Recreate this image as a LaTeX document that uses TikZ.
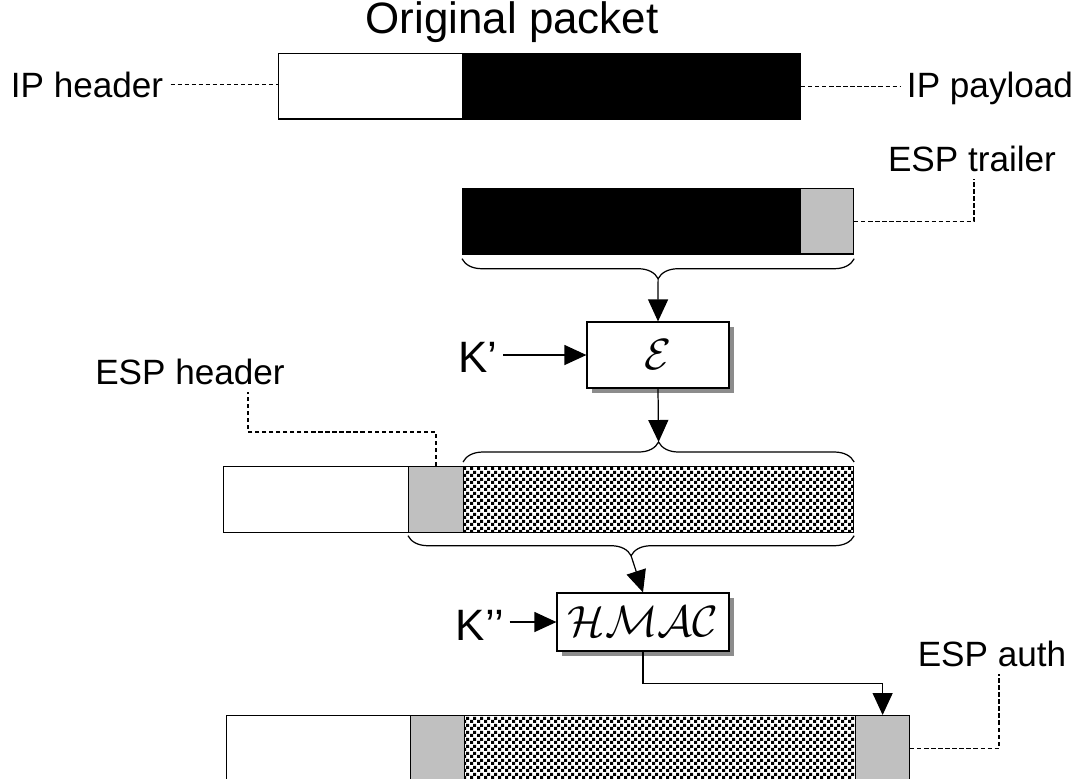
\documentclass[tikz,border=0pt]{standalone}
\usepackage{fontspec}
\setmainfont{Liberation Sans}
\usetikzlibrary{arrows.meta,patterns.meta,shadows,decorations.pathreplacing,calc}
\definecolor{espgray}{RGB}{192,192,192}
\tikzdeclarepattern{
  name=chk,
  type=uncolored,
  bounding box={(0,0) and (4pt,4pt)},
  tile size={(4pt,4pt)},
  code={
    \fill (0pt,0pt) rectangle (2pt,2pt);
    \fill (2pt,2pt) rectangle (4pt,4pt);
  }
}

\begin{document}
\begin{tikzpicture}[x=0.02cm,y=-0.02cm,
  seg/.style={draw,line width=0.7pt,inner sep=0pt,anchor=north west,minimum height=1.31cm},
  lbl/.style={font=\fontsize{20}{24}\selectfont,inner sep=0.4em,anchor=base},
  big/.style={font=\fontsize{25}{30}\selectfont,inner sep=0.3em,anchor=base},
  fn/.style={draw,line width=0.7pt,fill=white,inner sep=0pt,font=\Huge,
    drop shadow={shadow xshift=0.1cm,shadow yshift=-0.1cm,fill=black!45,opacity=1}},
  a/.style={-{Triangle[length=0.44cm,width=0.4cm]},line width=0.7pt},
  dsh/.style={dash pattern=on 2.4pt off 1.6pt,line width=0.8pt},
  brc/.style={decorate,decoration={brace,amplitude=0.4cm},line width=0.7pt}]
  \clip (0,0) rectangle (1077,778);
  % original packet
  \node[big] (title) at (512,33) {Original packet};
  \node[seg,minimum width=3.68cm] (hdr1) at (278,53) {};
  \node[seg,fill=black,minimum width=6.76cm] (pay1) at (462,53) {};
  \node[lbl] (iph) at (87,97) {IP header};
  \node[lbl] (ipp) at (990,97) {IP payload};
  \draw[dsh] (iph.east) -- (iph.east -| hdr1.west);
  \draw[dsh] (pay1.east) -- (pay1.east -| ipp.west);
  % payload + trailer
  \node[seg,fill=black,minimum width=6.76cm] (pay2) at (462,188) {};
  \node[seg,fill=espgray,minimum width=1.06cm] (trl2) at (800,188) {};
  \node[lbl] (esptr) at (972,171) {ESP trailer};
  \draw[dsh] (trl2.east) -| ([xshift=0.04cm]esptr.south);
  \draw[brc] ([yshift=-0.08cm]trl2.south east) -- ([yshift=-0.08cm]pay2.south west);
  \coordinate (t1) at ($(pay2.south west)!.5!(trl2.south east)+(0,24)$);
  % encryption
  \node[fn,minimum width=2.84cm,minimum height=1.32cm] (enc) at (658,355) {$\mathcal{E}$};
  \node[big] (k1) at (478,372) {K’};
  \draw[a] (t1) -- (enc.north);
  \draw[a] (k1.east |- enc.west) -- (enc.west);
  % encrypted packet
  \node[seg,minimum width=3.7cm] (hdr3) at (223,466) {};
  \node[seg,fill=espgray,minimum width=1.1cm] (esp3) at (408,466) {};
  \node[seg,pattern={chk},minimum width=7.8cm] (enc3) at (463,466) {};
  \node[lbl] (esph) at (190,384) {ESP header};
  \draw[dsh] (esp3.north) -- ++(0,-34) -| ($(esph.south)+(58,0)$);
  \draw[brc] ([yshift=0.08cm]enc3.north west) -- ([yshift=0.08cm]enc3.north east);
  \coordinate (t2) at ($(enc3.north west)!.5!(enc3.north east)+(0,-24)$);
  \draw[a] (enc.south) -- (t2);
  \draw[brc] ([yshift=-0.06cm]enc3.south east) -- ([yshift=-0.06cm]esp3.south west);
  \coordinate (t3) at ($(esp3.south west)!.5!(enc3.south east)+(0,23)$);
  % authentication
  \node[fn,minimum width=3.44cm,minimum height=1.16cm] (mac) at (643,622) {$\mathcal{HMAC}$};
  \node[big] (k2) at (480,640) {K’’};
  \draw[a] (t3) -- (mac.north);
  \draw[a] (k2.east |- mac.west) -- (mac.west);
  % final packet
  \node[seg,minimum width=3.68cm] (hdr5) at (226,715) {};
  \node[seg,fill=espgray,minimum width=1.08cm] (esp5) at (410,715) {};
  \node[seg,pattern={chk},minimum width=7.82cm] (enc5) at (464,715) {};
  \node[seg,fill=espgray,minimum width=1.08cm] (auth5) at (855,715) {};
  \node[lbl] (espa) at (992,666) {ESP auth};
  \draw[a] (mac.south) -- ++(0,32) -| (auth5.north);
  \draw[dsh] (auth5.east) -| ([xshift=0.14cm]espa.south);
\end{tikzpicture}
\end{document}
